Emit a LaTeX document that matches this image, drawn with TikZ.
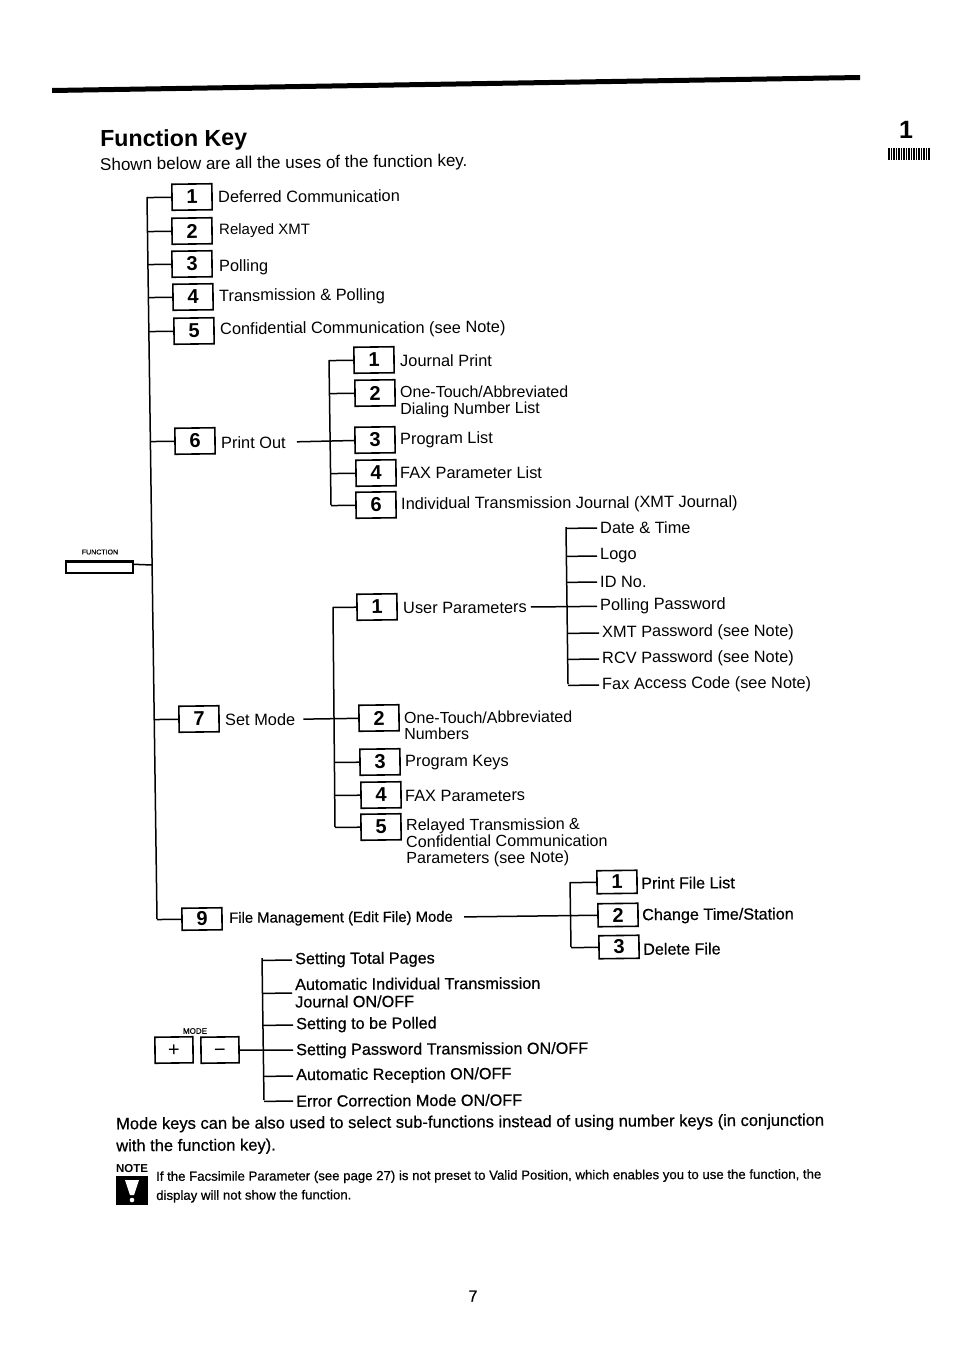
\documentclass[tikz,border=0pt]{standalone}
\usepackage{fontspec}
\setmainfont{Liberation Sans}
\newfontfamily\heavyfont[FakeBold=0.6]{Liberation Sans}
\usetikzlibrary{calc,positioning}

\begin{document}
\begin{tikzpicture}[
  x=1pt, y=-1pt,
  keyBox/.style={draw, line width=1.6pt, minimum width=40pt, minimum height=26pt,
                 inner sep=0pt, rotate=0.7, font=\fontsize{20}{20}\selectfont\bfseries},
  modeBox/.style={keyBox, minimum width=38pt, text height=13pt, text depth=0pt,
                  font=\fontsize{20}{20}\selectfont},
  itemText/.style={anchor=west, inner sep=3pt, rotate=0.3, yshift=-1pt, align=left,
                   font=\fontsize{16.35}{16.5}\selectfont},
  heavyText/.style={itemText, font=\fontsize{16.2}{17.5}\selectfont\heavyfont},
  link/.style={line width=1.5pt}
]
  \useasboundingbox (0,0) rectangle (954,1349);
  \fill (52,88) -- (860,75) -- (860,80) -- (52,93) -- cycle;

  \node[anchor=west, inner sep=0pt, rotate=0.5, font=\fontsize{23.2}{24}\selectfont\bfseries] (title) at (100,141) {Function Key};
  \node[anchor=west, inner sep=0pt, rotate=0.6, font=\fontsize{17}{17}\selectfont] (intro) at (100,166) {Shown below are all the uses of the function key.};
  \node[font=\fontsize{25}{25}\selectfont\bfseries] (chapter) at (906,130) {1};
  \foreach \xpos in {888,890.5,...,928}
    \fill (\xpos,148) rectangle +(1.5,12);

  % function key and main branch
  \node[draw, line width=1.4pt, minimum width=67pt, minimum height=11pt, inner sep=0pt] (fkey) at (99.5,567.5) {};
  \node[font=\fontsize{7}{7}\selectfont\heavyfont] (fkeyname) at (100,552) {FUNCTION};
  \coordinate (ftop) at (147,197);
  \coordinate (fbot) at (157,919);
  \coordinate (fjoin) at (152,565);
  \draw[link] (ftop) -- (fbot);
  \draw[line width=2.6pt] (fkey.north west) -- (fkey.north east);
  \draw[link] (fkey.north east) ++(0,3) -- (fjoin);

  \node[keyBox] (f1) at (192,197) {1};
  \node[keyBox] (f2) at (192,231) {2};
  \node[keyBox] (f3) at (192,264) {3};
  \node[keyBox] (f4) at (193,297) {4};
  \node[keyBox] (f5) at (194,331) {5};
  \node[keyBox] (f6) at (195,441) {6};
  \node[keyBox] (f7) at (199,719) {7};
  \node[keyBox, minimum height=22pt] (f9) at (202,919) {9};
  \foreach \k in {1,2,3,4,5,6,7,9}
    \draw[link] ($(ftop)!(f\k.west)!(fbot)$) -- (f\k);

  \node[itemText] (t1) at (215,196) {Deferred Communication};
  \node[itemText, font=\fontsize{15}{16}\selectfont] (t2) at (216,230) {Relayed XMT};
  \node[itemText] (t3) at (216,266) {Polling};
  \node[itemText] (t4) at (216,296) {Transmission \& Polling};
  \node[itemText] (t5) at (217,329) {Confidential Communication (see Note)};
  \node[itemText] (t6) at (218,442) {Print Out};
  \node[itemText] (t7) at (222,719) {Set Mode};
  \node[itemText, font=\fontsize{14.85}{15}\selectfont\heavyfont] (t9) at (226,918) {File Management (Edit File) Mode};

  % print out
  \coordinate (ptop) at (329,360);
  \coordinate (pbot) at (331,505);
  \draw[link] (ptop) -- (pbot);
  \node[keyBox] (p1) at (374,360) {1};
  \node[keyBox] (p2) at (375,393) {2};
  \node[keyBox] (p3) at (375,440) {3};
  \node[keyBox] (p4) at (376,473) {4};
  \node[keyBox] (p6) at (376,505) {6};
  \foreach \k in {1,2,4,6}
    \draw[link] ($(ptop)!(p\k.west)!(pbot)$) -- (p\k);
  \draw[link, shorten <=8pt] (t6) -- (p3);

  \node[itemText] (pt1) at (397,360) {Journal Print};
  \node[itemText, font=\fontsize{16}{16.5}\selectfont] (pt2) at (397,401) {One-Touch/Abbreviated\\Dialing Number List};
  \node[itemText] (pt3) at (397,439) {Program List};
  \node[itemText] (pt4) at (397,472) {FAX Parameter List};
  \node[itemText] (pt6) at (398,504) {Individual Transmission Journal (XMT Journal)};

  % set mode
  \coordinate (stop) at (333,607);
  \coordinate (sbot) at (335,827);
  \draw[link] (stop) -- (sbot);
  \node[keyBox] (s1) at (377,607) {1};
  \node[keyBox] (s2) at (379,718) {2};
  \node[keyBox] (s3) at (380,762) {3};
  \node[keyBox] (s4) at (381,795) {4};
  \node[keyBox] (s5) at (381,827) {5};
  \foreach \k in {1,3,4,5}
    \draw[link] ($(stop)!(s\k.west)!(sbot)$) -- (s\k);
  \draw[link, shorten <=5pt] (t7) -- (s2);

  \node[itemText] (st1) at (400,607) {User Parameters};
  \node[itemText, font=\fontsize{16}{16.5}\selectfont] (st2) at (401,725) {One-Touch/Abbreviated\\Numbers};
  \node[itemText] (st3) at (402,762) {Program Keys};
  \node[itemText] (st4) at (402,795) {FAX Parameters};
  \node[itemText, font=\fontsize{16.1}{16.5}\selectfont] (st5) at (403,842) {Relayed Transmission \&\\Confidential Communication\\Parameters (see Note)};

  % user parameters
  \coordinate (utop) at (566,527);
  \coordinate (ubot) at (568,684);
  \draw[link] (utop) -- (ubot);
  \node[itemText] (u1) at (597,527) {Date \& Time};
  \node[itemText] (u2) at (597,555) {Logo};
  \node[itemText] (u3) at (597,581) {ID No.};
  \node[itemText] (u4) at (597,605) {Polling Password};
  \node[itemText] (u5) at (599,632) {XMT Password (see Note)};
  \node[itemText] (u6) at (599,658) {RCV Password (see Note)};
  \node[itemText] (u7) at (599,684) {Fax Access Code (see Note)};
  \foreach \k in {1,2,3,5,6,7}
    \draw[link] ($(utop)!(u\k.west)!(ubot)$) -- (u\k.west);
  \draw[link, shorten <=1pt] (st1) -- (u4);

  % file management
  \coordinate (etop) at (570,882);
  \coordinate (ebot) at (571,947);
  \draw[link] (etop) -- (ebot);
  \node[keyBox, minimum height=23pt] (e1) at (617,882) {1};
  \node[keyBox, minimum height=23pt] (e2) at (618,915) {2};
  \node[keyBox, minimum height=23pt] (e3) at (619,947) {3};
  \foreach \k in {1,3}
    \draw[link] ($(etop)!(e\k.west)!(ebot)$) -- (e\k);
  \draw[link, shorten <=8pt] (t9) -- (e2);

  \node[heavyText] (et1) at (638,882) {Print File List};
  \node[heavyText] (et2) at (639,915) {Change Time/Station};
  \node[heavyText] (et3) at (640,948) {Delete File};

  % mode keys
  \node[modeBox] (mplus) at (174,1050) {+};
  \node[modeBox] (mminus) at (220,1050) {−};
  \node[font=\fontsize{8}{8}\selectfont\heavyfont] (mname) at (195,1031) {MODE};
  \coordinate (mtop) at (262,958);
  \coordinate (mbot) at (264,1100);
  \draw[link] (mtop) -- (mbot);
  \node[heavyText] (m1) at (292,959) {Setting Total Pages};
  \node[heavyText] (m2) at (292,992) {Automatic Individual Transmission\\Journal ON/OFF};
  \node[heavyText] (m3) at (293,1024) {Setting to be Polled};
  \node[heavyText] (m4) at (293,1050) {Setting Password Transmission ON/OFF};
  \node[heavyText] (m5) at (293,1075) {Automatic Reception ON/OFF};
  \node[heavyText] (m6) at (293,1100) {Error Correction Mode ON/OFF};
  \foreach \k in {1,2,3,5,6}
    \draw[link] ($(mtop)!(m\k.west)!(mbot)$) -- (m\k.west);
  \draw[link] (mminus) -- (m4);

  % closing text
  \node[heavyText, inner sep=0pt, font=\fontsize{16.5}{22}\selectfont\heavyfont] (closing) at (116,1135) {Mode keys can be also used to select sub-functions instead of using number keys (in conjunction\\with the function key).};
  \node[font=\fontsize{11.5}{11.5}\selectfont\bfseries, inner sep=0pt] (notename) at (132,1169) {NOTE};
  \fill (116,1176) rectangle (148,1205);
  \fill[white] (125,1180) -- (139,1180) -- (134,1195) -- (130,1195) -- cycle;
  \fill[white] (132,1200) circle (2.3);
  \node[anchor=west, inner sep=0pt, rotate=0.2, align=left, font=\fontsize{13.2}{19}\selectfont\heavyfont] (notetext) at (156,1187) {If the Facsimile Parameter (see page 27) is not preset to Valid Position, which enables you to use the function, the\\display will not show the function.};
  \node[font=\fontsize{16}{16}\selectfont\heavyfont] (pageno) at (473,1296) {7};
\end{tikzpicture}
\end{document}
